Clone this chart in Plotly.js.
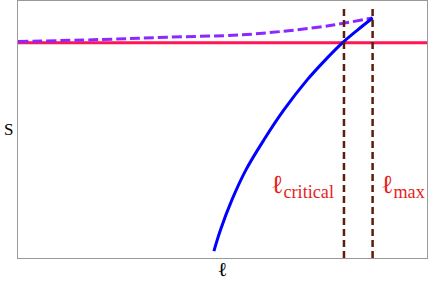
<!DOCTYPE html>
<html>
<head>
<meta charset="utf-8">
<script src="https://cdn.plot.ly/plotly-3.0.1.min.js"></script>
<style>html,body{margin:0;padding:0;background:#fff;}</style>
</head>
<body>
<div id="chart" style="width:434px;height:289px;"></div>
<script>
// Curve of S vs ℓ (blue), upper dashed branch (purple)
const blueL = [4.79, 4.95, 5.23, 5.57, 6.01, 6.50, 7.07, 7.51, 7.93, 8.30, 8.67];
const blueS = [0.27, 1.09, 2.26, 3.42, 4.59, 5.76, 6.93, 7.70, 8.37, 8.87, 9.34];
const purpleL = [0, 2.00, 3.64, 5.43, 6.41, 7.38, 7.95, 8.67];
const purpleS = [8.42, 8.50, 8.59, 8.68, 8.81, 8.99, 9.13, 9.34];
const levelL = [0, 10];
const levelS = [8.38, 8.38];
const lCritical = 7.97;
const lMax = 8.67;
const vTop = 9.84;
const labels = ["ℓ<sub>critical</sub>", "ℓ<sub>max</sub>"];
const xTitle = "ℓ";
const yTitle = "S";

const serif = '"Liberation Serif", "Times New Roman", "DejaVu Serif", serif';

const traces = [
  {x: levelL, y: levelS, mode: 'lines', line: {color: 'rgb(255,20,85)', width: 3}, hoverinfo: 'skip'},
  {x: purpleL, y: purpleS, mode: 'lines', line: {color: 'rgb(140,40,255)', width: 3, dash: '10px,4px', shape: 'spline', smoothing: 1}, hoverinfo: 'skip'},
  {x: blueL, y: blueS, mode: 'lines', line: {color: 'rgb(0,0,255)', width: 3, shape: 'spline', smoothing: 1}, hoverinfo: 'skip'},
  {x: [lCritical, lCritical], y: [0, vTop], mode: 'lines', line: {color: 'rgb(90,30,10)', width: 2.5, dash: '7px,4px'}, hoverinfo: 'skip'},
  {x: [lMax, lMax], y: [0, vTop], mode: 'lines', line: {color: 'rgb(90,30,10)', width: 2.5, dash: '7px,4px'}, hoverinfo: 'skip'}
];

const layout = {
  width: 434, height: 289,
  margin: {l: 18, r: 7, t: 1, b: 31},
  showlegend: false,
  paper_bgcolor: '#fff', plot_bgcolor: '#fff',
  xaxis: {range: [0, 10], showgrid: false, zeroline: false, showticklabels: false, ticks: '',
          showline: true, mirror: true, linecolor: '#999', linewidth: 1,
          title: {text: xTitle, font: {family: serif, size: 20, color: '#000'}, standoff: 3}},
  yaxis: {range: [0, 10], showgrid: false, zeroline: false, showticklabels: false, ticks: '',
          showline: true, mirror: true, linecolor: '#999', linewidth: 1},
  annotations: [
    {x: 0, y: 0.5, xref: 'paper', yref: 'paper', xanchor: 'center', yanchor: 'middle', xshift: -10,
     text: yTitle, showarrow: false, font: {family: serif, size: 17, color: '#000'}},
    {x: lCritical, y: 2.8, xref: 'x', yref: 'y', xanchor: 'right', yanchor: 'middle', xshift: -8,
     text: labels[0], showarrow: false, font: {family: serif, size: 26, color: 'rgb(230,30,30)'}},
    {x: lMax, y: 2.8, xref: 'x', yref: 'y', xanchor: 'left', yanchor: 'middle', xshift: 6,
     text: labels[1], showarrow: false, font: {family: serif, size: 26, color: 'rgb(230,30,30)'}}
  ]
};

Plotly.newPlot('chart', traces, layout, {staticPlot: true, displayModeBar: false});
</script>
</body>
</html>
